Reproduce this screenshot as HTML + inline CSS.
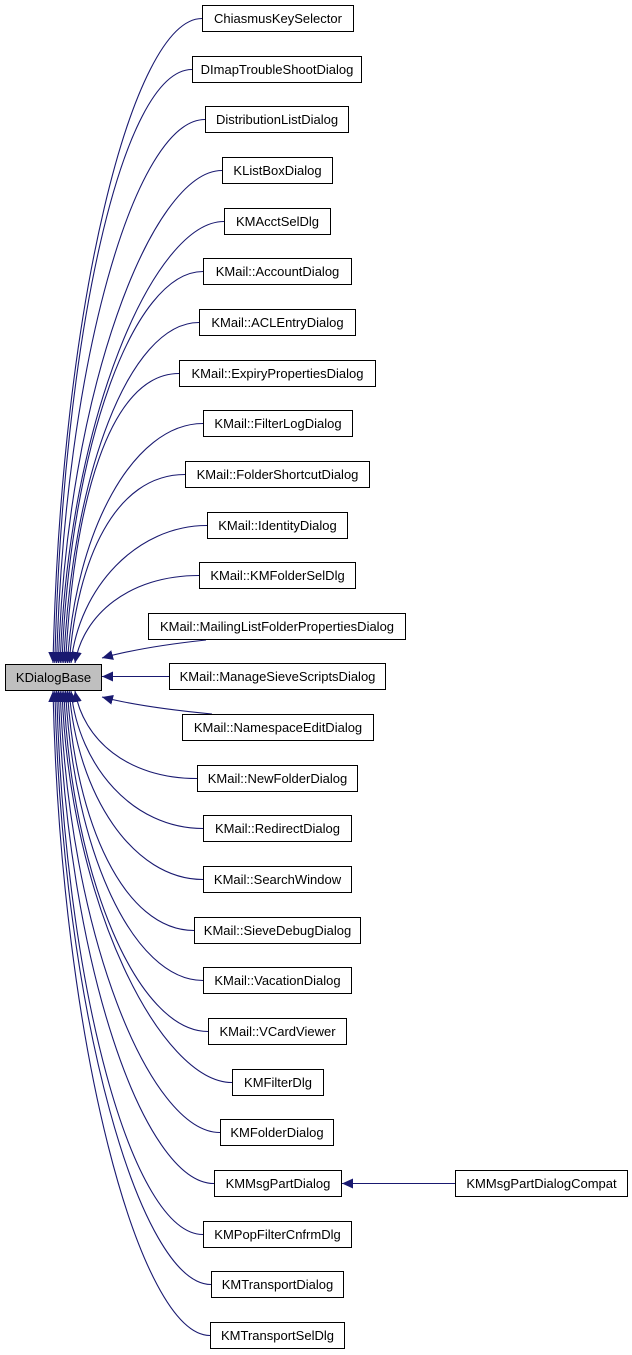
<!DOCTYPE html>
<html><head><meta charset="utf-8"><style>
html,body{margin:0;padding:0;background:#fff;}
svg{display:block;}
text{font-family:"Liberation Sans",Arial,sans-serif;font-size:13px;fill:#000;}
</style></head><body>
<svg id="g" width="632" height="1355" xmlns="http://www.w3.org/2000/svg">
<defs>
<marker id="a" markerUnits="userSpaceOnUse" markerWidth="12" markerHeight="10" refX="11" refY="5" orient="auto">
<path d="M0,0 L11,5 L0,10 Z" fill="#191970"/>
</marker>
</defs>
<g id="edges" fill="none" stroke="#191970" stroke-width="1.1"></g>
<g id="nodes"></g>
</svg>
<script>
(function(){
var N=[["ChiasmusKeySelector",202,353],["DImapTroubleShootDialog",192,361],["DistributionListDialog",205,348],["KListBoxDialog",222,332],["KMAcctSelDlg",224,330],["KMail::AccountDialog",203,351],["KMail::ACLEntryDialog",199,355],["KMail::ExpiryPropertiesDialog",179,375],["KMail::FilterLogDialog",203,352],["KMail::FolderShortcutDialog",185,369],["KMail::IdentityDialog",207,347],["KMail::KMFolderSelDlg",199,355],["KMail::MailingListFolderPropertiesDialog",148,405],["KMail::ManageSieveScriptsDialog",169,385],["KMail::NamespaceEditDialog",182,373],["KMail::NewFolderDialog",197,357],["KMail::RedirectDialog",203,351],["KMail::SearchWindow",203,351],["KMail::SieveDebugDialog",194,360],["KMail::VacationDialog",203,351],["KMail::VCardViewer",208,346],["KMFilterDlg",232,323],["KMFolderDialog",220,333],["KMMsgPartDialog",214,341],["KMPopFilterCnfrmDlg",203,351],["KMTransportDialog",211,343],["KMTransportSelDlg",210,344]];
var NS="http://www.w3.org/2000/svg",E=document.getElementById("edges"),G=document.getElementById("nodes");
function box(x1,x2,y,label,fill){var r=document.createElementNS(NS,"rect");r.setAttribute("x",x1+0.5);r.setAttribute("y",y+0.5);r.setAttribute("width",x2-x1);r.setAttribute("height",26);r.setAttribute("fill",fill);r.setAttribute("stroke","#000");r.setAttribute("stroke-width","1");G.appendChild(r);var t=document.createElementNS(NS,"text");t.setAttribute("x",(x1+x2)/2+0.5);t.setAttribute("y",y+18);t.setAttribute("text-anchor","middle");t.textContent=label;G.appendChild(t);}
function edge(d){var p=document.createElementNS(NS,"path");p.setAttribute("d",d);p.setAttribute("marker-end","url(#a)");E.appendChild(p);}
for(var i=0;i<N.length;i++){var n=N[i],ty=Math.round(5+50.65*i),cy=ty+13.5,x1=n[1],ex,ey,k;
 if(i==13){edge("M"+x1+","+cy+" L102,"+cy);}
 else if(i==12){edge("M"+(x1+58)+","+(ty+27)+" C150,"+(ty+33)+" 120,"+(ty+40)+" 102,"+(ty+45));}
 else if(i==14){edge("M"+(x1+30)+","+ty+" C160,"+(ty-5)+" 125,"+(ty-11)+" 102,"+(ty-17));}
 else if(i<12){ex=53+i*1.8;ey=663;if(i==11)ex=75;
  edge("M"+x1+","+cy+" C"+(x1-70)+","+cy+" "+(ex+8)+","+(cy+(ey-cy)*0.45)+" "+ex+","+ey);}
 else {k=26-i;ex=53+k*1.8;ey=691;if(i==15)ex=75;
  edge("M"+x1+","+cy+" C"+(x1-70)+","+cy+" "+(ex+8)+","+(cy-(cy-ey)*0.45)+" "+ex+","+ey);}
 box(n[1],n[2],ty,n[0],"#fff");}
box(5,101,664,"KDialogBase","#bfbfbf");
var t23=Math.round(5+50.65*23);
edge("M455,"+(t23+13.5)+" L342,"+(t23+13.5));
box(455,627,t23,"KMMsgPartDialogCompat","#fff");
})();
</script>
</body></html>
